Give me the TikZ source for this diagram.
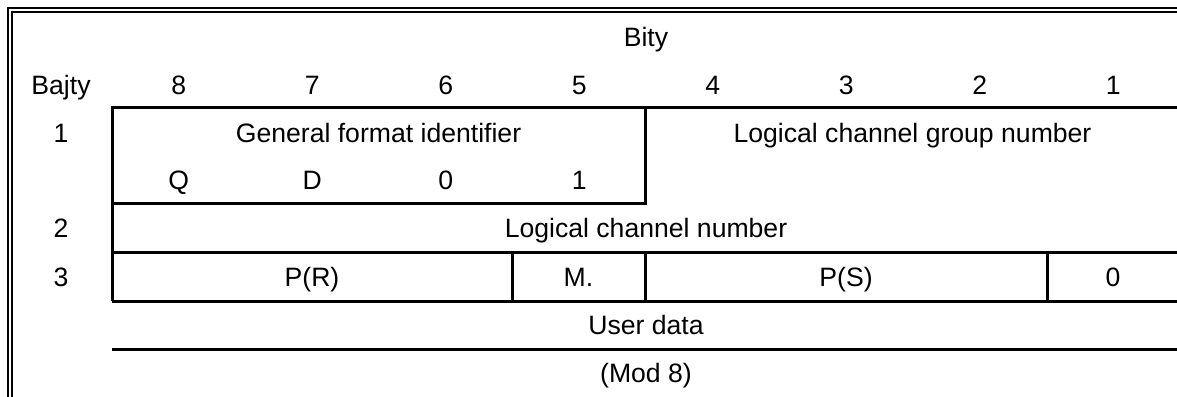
\documentclass[tikz,border=0pt]{standalone}
\usepackage{fontspec}
\setmainfont{Liberation Sans}
\usetikzlibrary{positioning}
\tikzstyle{txt}=[inner sep=0pt,text height=9.5pt,text depth=0pt,
font=\fontsize{13.3}{16}\selectfont]
\tikzstyle{rule}=[line width=1.5pt]
\tikzstyle{frame}=[line width=1.3pt]

\begin{document}
\begin{tikzpicture}[x=0.5pt, y=-0.5pt, node distance=66.75pt, on grid]
  \useasboundingbox (0,0) rectangle (1177,396);

  % page frame
  \draw[frame] (8,400) -- (8,8) -- (1185,8);
  \draw[frame] (12,400) -- (12,12) -- (1185,12);

  % header
  \node[txt] (bity) at (646,37) {Bity};
  \node[txt] (bajty) at (61,85) {Bajty};
  \node[txt] (b8) at (178.75,85) {8};
  \node[txt, right=of b8] (b7) {7};
  \node[txt, right=of b7] (b6) {6};
  \node[txt, right=of b6] (b5) {5};
  \node[txt, right=of b5] (b4) {4};
  \node[txt, right=of b4] (b3) {3};
  \node[txt, right=of b3] (b2) {2};
  \node[txt, right=of b2] (b1) {1};

  % octet numbers
  \node[txt] (r1) at (61,133) {1};
  \node[txt] (r2) at (61,228) {2};
  \node[txt] (r3) at (61,277) {3};

  % octet 1
  \node[txt] (gfi) at (378.5,133) {General format identifier};
  \node[txt] (lcgn) at (912.5,133) {Logical channel group number};
  \node[txt, below=47.5pt of b8] (q) {Q};
  \node[txt, right=of q] (d) {D};
  \node[txt, right=of d] (f0) {0};
  \node[txt, right=of f0] (f1) {1};

  % octet 2
  \node[txt] (lcn) at (646,228) {Logical channel number};

  % octet 3
  \node[txt] (pr) at (312,277) {P(R)};
  \node[txt] (m) at (578.5,277) {M.};
  \node[txt] (ps) at (846,277) {P(S)};
  \node[txt] (s0) at (1113,277) {0};

  % user data
  \node[txt] (ud) at (646,325) {User data};
  \node[txt] (mod) at (646,373) {(Mod 8)};

  % table rules
  \coordinate (tl) at (112,107);
  \coordinate (mid) at (645,107);
  \draw[rule] (112,301) -- (tl) -- (1185,107);
  \draw[rule] (112,203) -- (645,203) -- (mid);
  \draw[rule] (112,252) -- (1185,252);
  \draw[rule] (112,301) -- (1185,301);
  \draw[rule] (512,252) -- (512,301);
  \draw[rule] (645,252) -- (645,301);
  \draw[rule] (1047,252) -- (1047,301);
  \draw[rule] (112,349) -- (1185,349);
\end{tikzpicture}
\end{document}
